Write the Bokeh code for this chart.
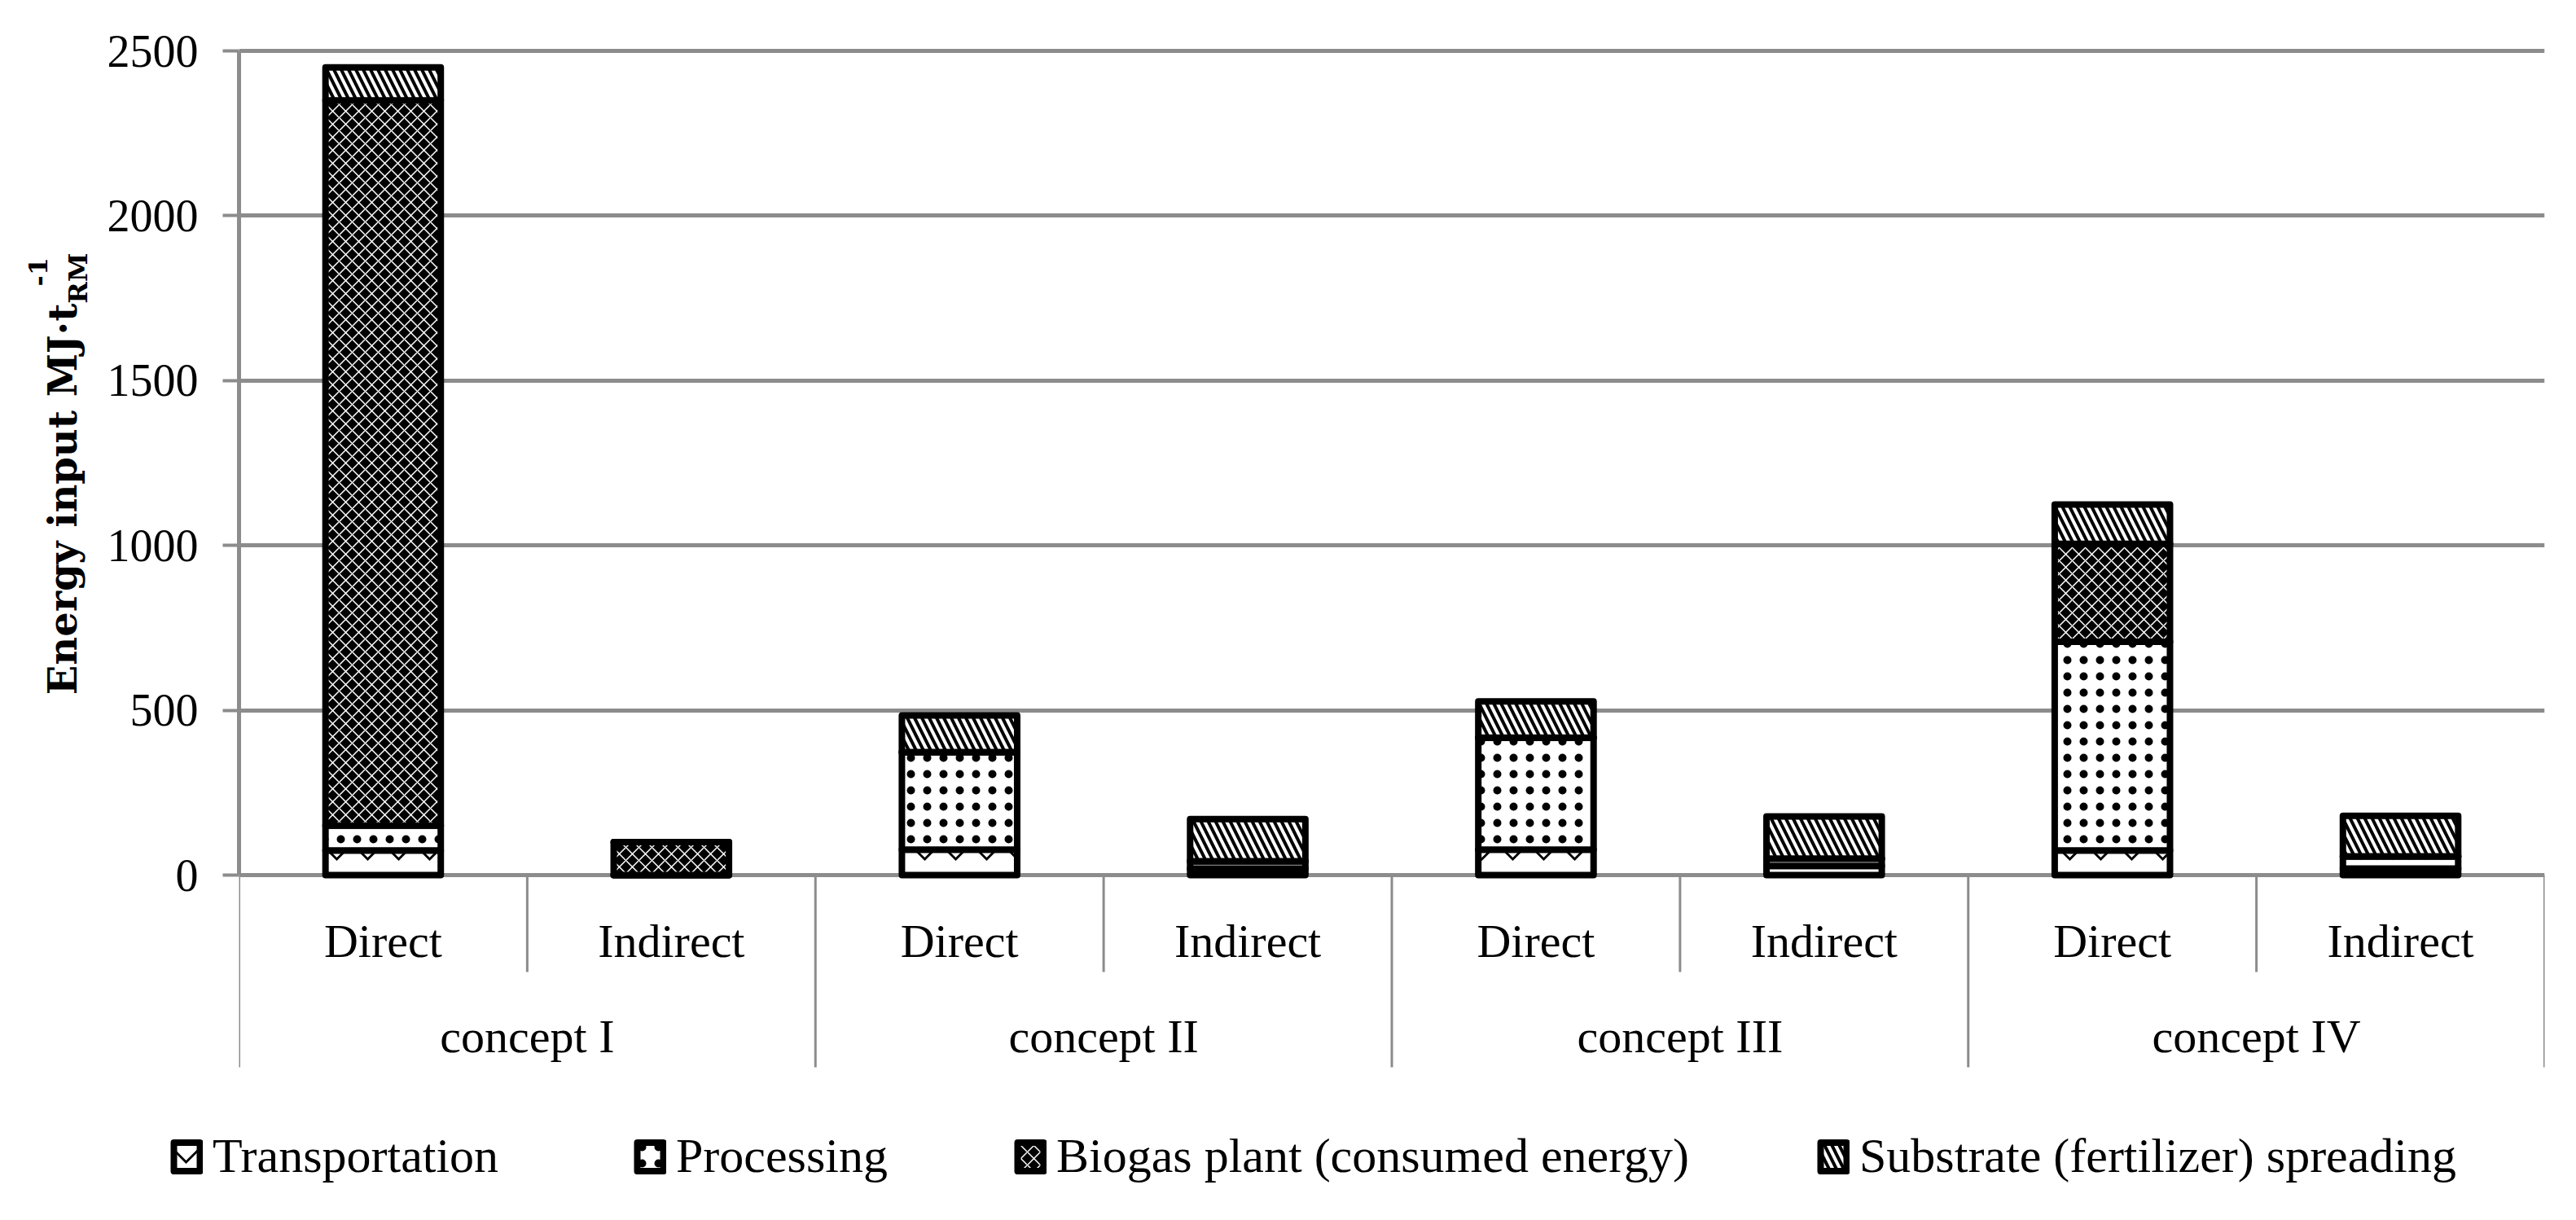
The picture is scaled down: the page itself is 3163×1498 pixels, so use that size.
from math import pi
from bokeh.plotting import figure
from bokeh.layouts import row, column
from bokeh.models import Range1d, FixedTicker, Legend, LegendItem, ColumnDataSource
from bokeh.embed import file_html
from bokeh.resources import INLINE
from bokeh.core.properties import value

# ---------------- data ----------------
concepts = ["concept I", "concept II", "concept III", "concept IV"]
kinds = ["Direct", "Indirect"]
series_names = ["Transportation", "Processing",
                "Biogas plant (consumed energy)", "Substrate (fertilizer) spreading"]
transportation = [75, 0, 77, 20, 77, 28, 75, 20]
processing = [75, 0, 296, 22, 340, 22, 633, 37]
biogas = [2200, 100, 0, 0, 0, 0, 297, 0]
substrate = [100, 0, 111, 128, 110, 128, 119, 123]
y_ticks = [0, 500, 1000, 1500, 2000, 2500]
y_label_main = "Energy input MJ\u00b7t"
y_label_sub = "RM"
y_label_sup = "-1"

# ---------------- styles ----------------
FONT = "Liberation Serif"
TITLE_FONT = "DejaVu Serif"
GRAY = "#8c8c8c"
fills = ["white", "white", "black", "white"]
hatches = ["horizontal_wave", "dot", "diagonal_cross", "left_diagonal_line"]
hatch_colors = ["black", "black", "white", "black"]
hatch_scales = [38, 20, 16, 18]
hatch_weights = [3, 2, 1.5, 4]

# ---------------- layout ----------------
W = 3147
LAB_W = 128
MAIN_H = 1360
LEG_H = 122
FRAME_L, FRAME_R, FRAME_T = 292, 3124, 48
ZERO_PX, TOP_PX = 1074, 62
ppu = (ZERO_PX - TOP_PX) / y_ticks[-1]
y_end = y_ticks[-1] + (TOP_PX - FRAME_T) / ppu
y_start = -(MAIN_H - ZERO_PX) / ppu

n = len(concepts) * len(kinds)
xs = [i + 0.5 for i in range(n)]
kind_labels = [k for c in concepts for k in kinds]

src = ColumnDataSource(dict(x=xs, t=transportation, p=processing, b=biogas, s=substrate))

p = figure(width=W - LAB_W, height=MAIN_H, x_range=Range1d(0, n), y_range=Range1d(y_start, y_end),
           output_backend="svg", toolbar_location=None, x_axis_location=None,
           min_border_left=FRAME_L - LAB_W, min_border_right=W - FRAME_R,
           min_border_top=FRAME_T, min_border_bottom=0)
p.outline_line_color = None
p.background_fill_color = "white"
p.border_fill_color = "white"
p.xgrid.visible = False

ax = p.yaxis[0]
ax.ticker = FixedTicker(ticks=y_ticks)
ax.bounds = (y_ticks[0], y_ticks[-1])
ax.axis_line_color = GRAY
ax.axis_line_width = 5
ax.major_tick_line_color = GRAY
ax.major_tick_line_width = 4
ax.major_tick_out = 20
ax.major_tick_in = 0
ax.minor_tick_line_color = None
ax.major_label_text_font = FONT
ax.major_label_text_font_size = "56px"
ax.major_label_text_color = "black"
ax.major_label_standoff = 30

p.ygrid.ticker = FixedTicker(ticks=y_ticks)
p.ygrid.grid_line_color = GRAY
p.ygrid.grid_line_width = 5

rs = p.vbar_stack(["t", "p", "b", "s"], x="x", width=0.4, source=src,
                  fill_color=fills, hatch_pattern=hatches, hatch_color=hatch_colors,
                  hatch_scale=hatch_scales, hatch_weight=hatch_weights,
                  line_color="black", line_width=8, line_join="round")

# category separators
inner_drop = (1193 - ZERO_PX) / ppu
group_drop = (1310 - ZERO_PX) / ppu
sep_x = list(range(n + 1))
sep_y1 = [-(group_drop if i % len(kinds) == 0 else inner_drop) for i in sep_x]
p.segment(x0=sep_x, y0=[0] * len(sep_x), x1=sep_x, y1=sep_y1, line_color=GRAY, line_width=3)

# category labels
kind_y = -(1155 - ZERO_PX) / ppu
concept_y = -(1272 - ZERO_PX) / ppu
p.text(x=xs, y=[kind_y] * n, text=kind_labels, text_font=value(FONT), text_font_size="58px",
       text_align="center", text_baseline="middle", text_color="black")
p.text(x=[len(kinds) * j + len(kinds) / 2 for j in range(len(concepts))], y=[concept_y] * len(concepts),
       text=concepts, text_font=value(FONT), text_font_size="58px",
       text_align="center", text_baseline="middle", text_color="black")

# ---------------- y-axis title panel ----------------
lab = figure(width=LAB_W, height=MAIN_H, x_range=Range1d(0, LAB_W), y_range=Range1d(0, MAIN_H),
             output_backend="svg", toolbar_location=None, x_axis_location=None, y_axis_location=None,
             min_border=0)
lab.outline_line_color = None
lab.grid.visible = False
main_size, small_size = 48, 32
junction = MAIN_H - 336
lab.text(x=[76], y=[junction], text=[y_label_main], angle=pi / 2,
         text_font=value(TITLE_FONT), text_font_size=f"{main_size}px", text_font_style="bold",
         text_align="right", text_baseline="middle", text_color="black")
lab.text(x=[95], y=[junction], text=[y_label_sub], angle=pi / 2,
         text_font=value(TITLE_FONT), text_font_size=f"{small_size}px", text_font_style="bold",
         text_align="left", text_baseline="middle", text_color="black")
lab.text(x=[46], y=[junction + 22], text=[y_label_sup], angle=pi / 2,
         text_font=value(TITLE_FONT), text_font_size=f"{small_size}px", text_font_style="bold",
         text_align="left", text_baseline="middle", text_color="black")

# ---------------- legend panel ----------------
leg = figure(width=W, height=LEG_H, x_range=Range1d(0, W), y_range=Range1d(0, LEG_H),
             output_backend="svg", toolbar_location=None, x_axis_location=None, y_axis_location=None,
             min_border=0)
leg.outline_line_color = None
leg.grid.visible = False
legend_x = [209, 778, 1245, 2231]
for i, (name, lx) in enumerate(zip(series_names, legend_x)):
    r = leg.vbar(x=[lx], top=[float("nan")], bottom=[float("nan")], width=1,
                 fill_color=fills[i], hatch_pattern=hatches[i],
                 hatch_color=hatch_colors[i], hatch_scale=hatch_scales[i], hatch_weight=hatch_weights[i],
                 line_color="black", line_width=8, line_join="round")
    lg = Legend(items=[LegendItem(label=name, renderers=[r])], location=(lx, 28),
                orientation="horizontal", glyph_width=40, glyph_height=44, label_standoff=12,
                padding=0, margin=0, spacing=0, border_line_color=None, background_fill_alpha=0,
                label_text_font=FONT, label_text_font_size="60px", label_text_color="black")
    leg.add_layout(lg)

layout = column(row(lab, p, spacing=0), leg, spacing=0)
open("out.html", "w").write(file_html(layout, INLINE))
